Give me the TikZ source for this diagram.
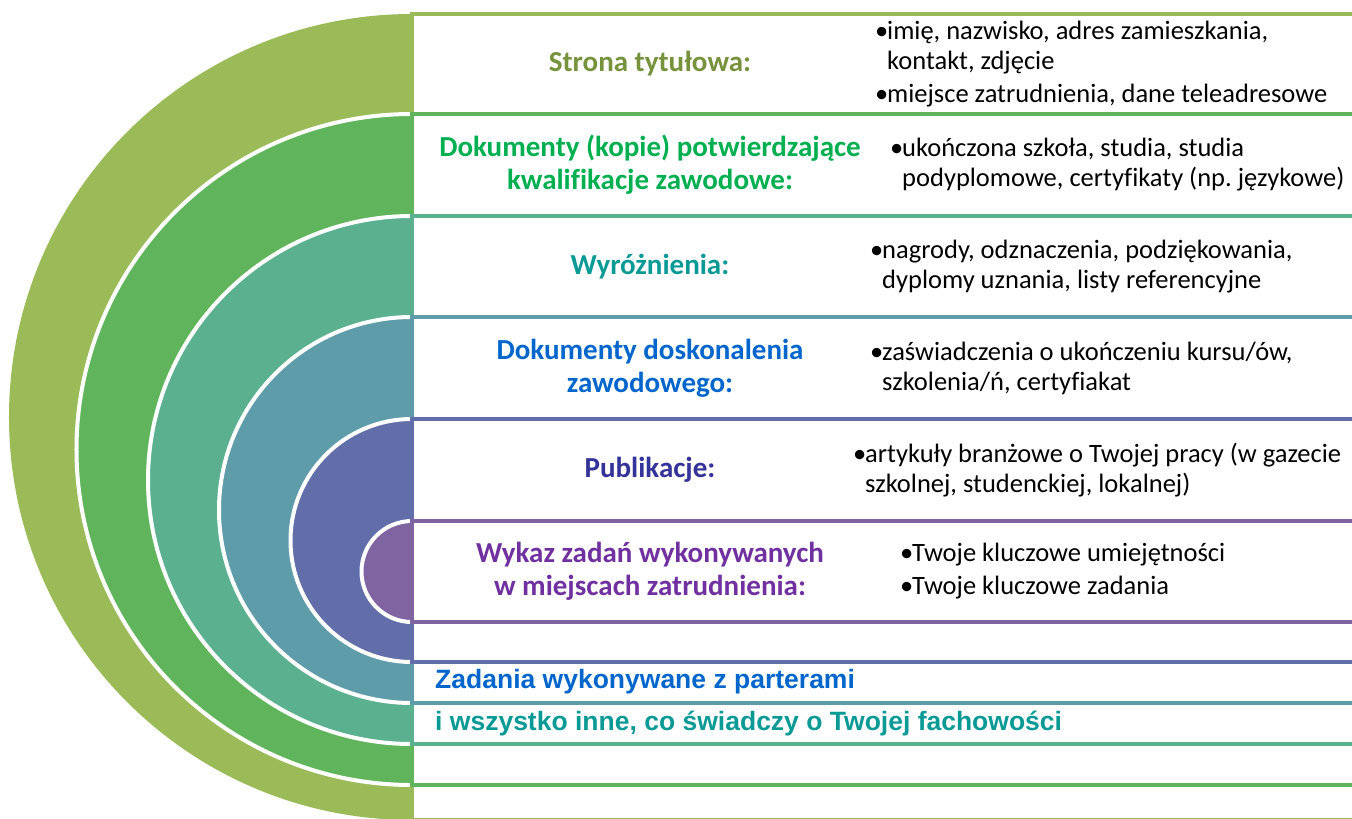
\documentclass[tikz,border=0pt]{standalone}
\usepackage{fontspec}
\setmainfont{Carlito}[Ligatures=NoCommon]
\newfontfamily\arialfont{Liberation Sans}
\usepackage{tikz}
\frenchspacing

\definecolor{ringA}{HTML}{9BBB59}
\definecolor{ringB}{HTML}{60B55C}
\definecolor{ringC}{HTML}{5BB08F}
\definecolor{ringD}{HTML}{5F9CAA}
\definecolor{ringE}{HTML}{626EA9}
\definecolor{ringF}{HTML}{8064A2}
\definecolor{headA}{HTML}{76923C}
\definecolor{headB}{HTML}{00B050}
\definecolor{headC}{HTML}{0A9A96}
\definecolor{headD}{HTML}{0066CC}
\definecolor{headE}{HTML}{333399}
\definecolor{headF}{HTML}{7030A0}

\newcommand{\bul}{\makebox[12bp][l]{•}}
\newcommand{\ind}{\hspace*{12bp}}

\tikzset{
  ring/.style={draw=white, line width=4bp},
  band/.style={line width=4bp, fill=white},
  head/.style={font=\bfseries\fontsize{29bp}{33bp}\selectfont, align=center, inner sep=0pt},
  info/.style={font=\fontsize{26.5bp}{30bp}\selectfont, align=left, anchor=west, inner sep=0pt},
  extra/.style={font=\arialfont\bfseries\fontsize{26.5bp}{30bp}\selectfont, anchor=west, inner sep=0pt}
}

\begin{document}
\begin{tikzpicture}[x=1bp, y=-1bp]
\useasboundingbox (0,0) rectangle (1352,818);
\clip (0,0) rectangle (1352,818);

% half discs
\fill[ringA] (412,14) arc[start angle=90, end angle=270, radius=403bp] -- cycle;

\fill[ringB] (412,114) arc[start angle=90, end angle=270, radius=335.5bp] -- cycle;
\draw[ring] (412,114) arc[start angle=90, end angle=270, radius=335.5bp];

\fill[ringC] (412,216) arc[start angle=90, end angle=270, radius=264bp] -- cycle;
\draw[ring] (412,216) arc[start angle=90, end angle=270, radius=264bp];

\fill[ringD] (412,317) arc[start angle=90, end angle=270, radius=193bp] -- cycle;
\draw[ring] (412,317) arc[start angle=90, end angle=270, radius=193bp];

\fill[ringE] (412,419) arc[start angle=90, end angle=270, radius=121.5bp] -- cycle;
\draw[ring] (412,419) arc[start angle=90, end angle=270, radius=121.5bp];

\fill[ringF] (412,521) arc[start angle=90, end angle=270, radius=50.5bp] -- cycle;
\draw[ring] (412,521) arc[start angle=90, end angle=270, radius=50.5bp];

% bands
\draw[band, draw=ringA] (412,14) rectangle (1400,820);
\draw[band, draw=ringB] (412,114) rectangle (1400,785);
\draw[band, draw=ringC] (412,216) rectangle (1400,744);
\draw[band, draw=ringD] (412,317) rectangle (1400,703);
\draw[band, draw=ringE] (412,419) rectangle (1400,662);
\draw[band, draw=ringF] (412,521) rectangle (1400,622);

% headings
\node[head, text=headA] (strona) at (650,64) {Strona tytułowa:};
\node[head, text=headB] (kwalif) at (650,165) {Dokumenty (kopie) potwierdzające\\kwalifikacje zawodowe:};
\node[head, text=headC] (wyroz) at (650,267) {Wyróżnienia:};
\node[head, text=headD] (doskon) at (650,368) {Dokumenty doskonalenia\\zawodowego:};
\node[head, text=headE] (publ) at (650,470) {Publikacje:};
\node[head, text=headF] (wykaz) at (650,571) {Wykaz zadań wykonywanych\\w miejscach zatrudnienia:};

% details
\node[info] (stronaInfo) at (875,64) {\bul imię, nazwisko, adres zamieszkania,\\\ind kontakt, zdjęcie\\[3bp]\bul miejsce zatrudnienia, dane teleadresowe};
\node[info] (kwalifInfo) at (890,165) {\bul ukończona szkoła, studia, studia\\\ind podyplomowe, certyfikaty (np. językowe)};
\node[info] (wyrozInfo) at (870,267) {\bul nagrody, odznaczenia, podziękowania,\\\ind dyplomy uznania, listy referencyjne};
\node[info] (doskonInfo) at (870,368) {\bul zaświadczenia o ukończeniu kursu/ów,\\\ind szkolenia/ń, certyfiakat};
\node[info] (publInfo) at (853,470) {\bul artykuły branżowe o Twojej pracy (w gazecie\\\ind szkolnej, studenckiej, lokalnej)};
\node[info] (wykazInfo) at (900,571) {\bul Twoje kluczowe umiejętności\\[3bp]\bul Twoje kluczowe zadania};

% bottom lines
\node[extra, text=headD] (partnerzy) at (435,682) {Zadania wykonywane z parterami};
\node[extra, text=headC] (reszta) at (435,724) {i wszystko inne, co świadczy o Twojej fachowości};
\end{tikzpicture}
\end{document}
